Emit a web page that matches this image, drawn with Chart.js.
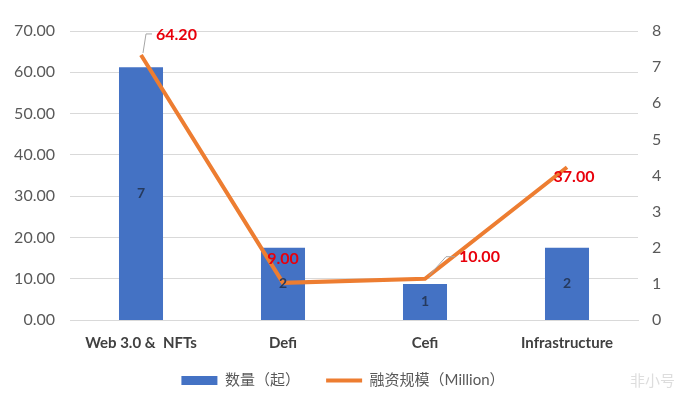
<!DOCTYPE html>
<html>
<head>
<meta charset="utf-8">
<script src="https://cdn.jsdelivr.net/npm/chart.js@4"></script>
<style>
  html, body { margin: 0; padding: 0; background: #fff; }
  #wrap { width: 686px; height: 398px; }
</style>
</head>
<body>
<div id="wrap"><canvas id="chart"></canvas></div>
<script>
// 数据
const categories = ['Web 3.0 &  NFTs', 'Defi', 'Cefi', 'Infrastructure'];
const dealCounts = [7, 2, 1, 2];             // 数量（起）- 右轴
const fundingMillion = [64.2, 9.0, 10.0, 37.0]; // 融资规模（Million）- 左轴
const leftTicks = [0, 10, 20, 30, 40, 50, 60, 70];
const rightTicks = [0, 1, 2, 3, 4, 5, 6, 7, 8];

const FONT = 'Lato, "Noto Sans CJK SC", sans-serif';
const BLUE = '#4472C4';
const ORANGE = '#ED7D31';

// 折线标签的偏移（像素）及是否画引线
const lineLabelPos = [
  { dx: 15, dy: -20, align: 'left', leader: true },
  { dx: 0, dy: -24, align: 'center', leader: false },
  { dx: 34, dy: -22, align: 'left', leader: true },
  { dx: 7, dy: 10, align: 'center', leader: false }
];

const labelPlugin = {
  id: 'labels',
  afterDatasetsDraw(chart) {
    const ctx = chart.ctx;
    ctx.save();
    // 柱内数字
    const barMeta = chart.getDatasetMeta(0);
    ctx.font = 'bold 14px ' + FONT;
    ctx.fillStyle = '#263a5e';
    ctx.textAlign = 'center';
    ctx.textBaseline = 'middle';
    barMeta.data.forEach((el, i) => {
      const mid = (el.y + el.base) / 2;
      ctx.fillText(String(dealCounts[i]), el.x, mid);
    });
    // 折线数值
    const lineMeta = chart.getDatasetMeta(1);
    ctx.font = 'bold 16px ' + FONT;
    lineMeta.data.forEach((el, i) => {
      const p = lineLabelPos[i];
      const tx = el.x + p.dx, ty = el.y + p.dy;
      if (p.leader) {
        ctx.strokeStyle = '#a6a6a6';
        ctx.lineWidth = 1;
        ctx.beginPath();
        if (i === 0) {
          ctx.moveTo(el.x + 2, el.y - 2);
          ctx.lineTo(el.x + 5, ty - 1);
          ctx.lineTo(tx - 4, ty - 1);
        } else {
          ctx.moveTo(el.x + 4, el.y - 3);
          ctx.lineTo(el.x + 21, ty);
          ctx.lineTo(tx - 4, ty);
        }
        ctx.stroke();
      }
      ctx.fillStyle = '#e8000b';
      ctx.textAlign = p.align;
      ctx.fillText(fundingMillion[i].toFixed(2), tx, ty);
    });
    // 水印
    ctx.font = '15px "Noto Sans CJK SC", sans-serif';
    ctx.fillStyle = 'rgba(180,180,180,0.45)';
    ctx.textAlign = 'left';
    ctx.fillText('非小号', 630, 380);
    ctx.restore();
  }
};

new Chart(document.getElementById('chart'), {
  data: {
    labels: categories,
    datasets: [
      {
        type: 'bar',
        label: '数量（起）',
        data: dealCounts,
        backgroundColor: BLUE,
        yAxisID: 'yRight',
        categoryPercentage: 1.0,
        barPercentage: 0.31,
        order: 2
      },
      {
        type: 'line',
        label: '融资规模（Million）',
        data: fundingMillion,
        borderColor: ORANGE,
        backgroundColor: ORANGE,
        borderWidth: 4,
        pointRadius: 0,
        tension: 0,
        yAxisID: 'yLeft',
        order: 1
      }
    ]
  },
  options: {
    responsive: true,
    maintainAspectRatio: false,
    animation: false,
    layout: { padding: { left: 0, right: 0, top: 31, bottom: 0 } },
    scales: {
      x: {
        grid: { display: false, drawTicks: false },
        border: { display: true, color: '#d9d9d9', width: 1 },
        ticks: { color: '#404040', font: { family: FONT, size: 15, weight: 'bold' }, padding: 14 }
      },
      yLeft: {
        position: 'left',
        min: 0, max: 70,
        afterBuildTicks: (axis) => { axis.ticks = leftTicks.map(v => ({ value: v })); },
        grid: { color: '#d9d9d9', drawTicks: false },
        border: { display: false },
        ticks: {
          color: '#595959',
          font: { family: FONT, size: 16 },
          padding: 15,
          callback: (v) => Number(v).toFixed(2)
        },
        afterFit: (axis) => { axis.width = 70; }
      },
      yRight: {
        position: 'right',
        min: 0, max: 8,
        afterBuildTicks: (axis) => { axis.ticks = rightTicks.map(v => ({ value: v })); },
        grid: { display: false, drawTicks: false },
        border: { display: false },
        ticks: { color: '#595959', font: { family: FONT, size: 16 }, padding: 14 },
        afterFit: (axis) => { axis.width = 48; }
      }
    },
    plugins: {
      tooltip: { enabled: false },
      legend: {
        position: 'bottom',
        labels: {
          usePointStyle: true,
          pointStyleWidth: 36,
          boxWidth: 36,
          boxHeight: 9,
          padding: 7,
          color: '#595959',
          font: { family: FONT, size: 15 },
          sort: (a, b) => a.datasetIndex - b.datasetIndex,
          generateLabels(chart) {
            const items = Chart.defaults.plugins.legend.labels.generateLabels(chart);
            items.forEach(it => {
              if (it.datasetIndex === 0) {
                it.pointStyle = 'rect';
                it.lineWidth = 0;
                it.fillStyle = BLUE;
                it.strokeStyle = BLUE;
                it.text = it.text + '     ';
              } else {
                it.pointStyle = 'line';
                it.lineWidth = 4;
                it.strokeStyle = ORANGE;
              }
            });
            return items;
          }
        }
      }
    }
  },
  plugins: [labelPlugin]
});
</script>
</body>
</html>
